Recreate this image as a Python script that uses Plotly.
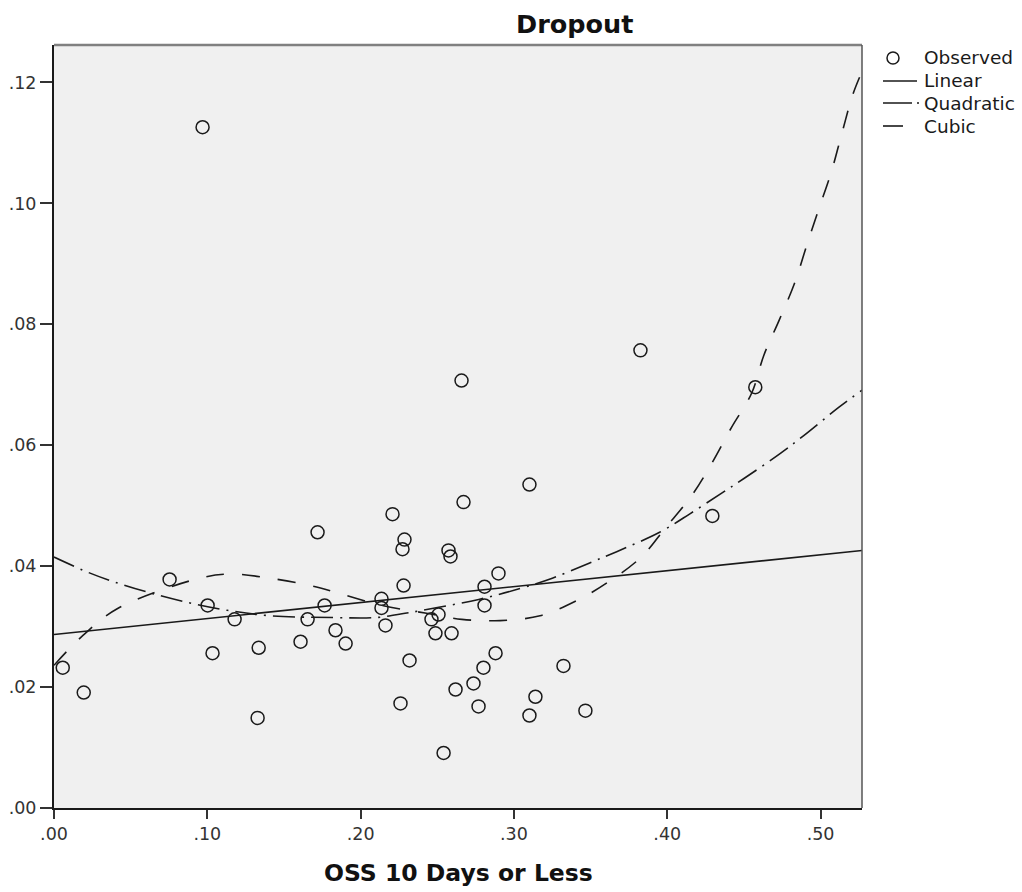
import plotly.graph_objects as go

# Observed data points
obs_x = [0.0057, 0.0194, 0.0969, 0.0754, 0.1002, 0.1034, 0.1178, 0.1335, 0.1328, 0.1608,
         0.1654, 0.1719, 0.1765, 0.1836, 0.1902, 0.2208, 0.2136, 0.2136, 0.2162, 0.2286,
         0.2273, 0.2280, 0.2260, 0.2319, 0.2462, 0.2508, 0.2488, 0.2541, 0.2573, 0.2586,
         0.2593, 0.2619, 0.2671, 0.2658, 0.2736, 0.2769, 0.2801, 0.2808, 0.2808, 0.2880,
         0.2899, 0.3101, 0.3101, 0.3140, 0.3323, 0.3466, 0.3825, 0.4294, 0.4574]
obs_y = [0.0232, 0.0191, 0.1126, 0.0378, 0.0335, 0.0256, 0.0312, 0.0265, 0.0149, 0.0275,
         0.0312, 0.0456, 0.0335, 0.0294, 0.0272, 0.0486, 0.0346, 0.0331, 0.0302, 0.0444,
         0.0428, 0.0368, 0.0173, 0.0244, 0.0312, 0.0320, 0.0289, 0.0091, 0.0426, 0.0416,
         0.0289, 0.0196, 0.0506, 0.0707, 0.0206, 0.0168, 0.0232, 0.0366, 0.0335, 0.0256,
         0.0388, 0.0535, 0.0153, 0.0184, 0.0235, 0.0161, 0.0757, 0.0483, 0.0696]

# Fitted curves
lin_x = [0.0, 0.527]
lin_y = [0.0287, 0.0426]

quad_x = [0.0, 0.022, 0.038, 0.061, 0.087, 0.113, 0.141, 0.182, 0.210, 0.229, 0.251,
          0.277, 0.304, 0.325, 0.349, 0.367, 0.395, 0.415, 0.435, 0.450, 0.474, 0.489,
          0.512, 0.527]
quad_y = [0.0415, 0.0390, 0.0375, 0.0357, 0.0340, 0.0327, 0.0318, 0.0315, 0.0315, 0.0322,
          0.0332, 0.0345, 0.0363, 0.0380, 0.0405, 0.0424, 0.0456, 0.0487, 0.0520, 0.0545,
          0.0587, 0.0616, 0.0663, 0.0691]

cub_x = [0.0, 0.0187, 0.0415, 0.095, 0.116, 0.141, 0.167, 0.186, 0.214, 0.243, 0.266,
         0.291, 0.317, 0.341, 0.361, 0.383, 0.399, 0.416, 0.429, 0.442, 0.455, 0.463,
         0.473, 0.483, 0.491, 0.499, 0.507, 0.514, 0.521, 0.527]
cub_y = [0.0236, 0.0285, 0.0330, 0.0380, 0.0387, 0.0380, 0.0368, 0.0355, 0.0335, 0.0322,
         0.0312, 0.0310, 0.0318, 0.0343, 0.0373, 0.0415, 0.0464, 0.0517, 0.0570, 0.0630,
         0.0686, 0.0749, 0.0807, 0.0868, 0.0931, 0.0992, 0.1052, 0.1117, 0.1180, 0.1218]

x_tickvals = [0.0, 0.1, 0.2, 0.3, 0.4, 0.5]
x_ticktext = [".00", ".10", ".20", ".30", ".40", ".50"]
y_tickvals = [0.0, 0.02, 0.04, 0.06, 0.08, 0.10, 0.12]
y_ticktext = [".00", ".02", ".04", ".06", ".08", ".10", ".12"]

legend_labels = ["Observed", "Linear", "Quadratic", "Cubic"]

FONT = "DejaVu Sans"
INK = "#1a1a1a"

W, H = 1022, 892
ML, MR, MT, MB = 54, 160, 45, 84
PW, PH = W - ML - MR, H - MT - MB


def px_x(p):
    return (p - ML) / PW


def px_y(p):
    return 1 - (p - MT) / PH


fig = go.Figure()
fig.add_trace(go.Scatter(x=obs_x, y=obs_y, mode="markers", name=legend_labels[0],
                         marker=dict(symbol="circle-open", size=13, color=INK,
                                     line=dict(width=1.5, color=INK))))
fig.add_trace(go.Scatter(x=lin_x, y=lin_y, mode="lines", name=legend_labels[1],
                         line=dict(color=INK, width=1.6)))
QUAD_DASH = "22px,7px,2px,7px"
CUB_DASH = "18px,18px"
fig.add_trace(go.Scatter(x=quad_x, y=quad_y, mode="lines", name=legend_labels[2],
                         line=dict(color=INK, width=1.6, dash=QUAD_DASH, shape="spline")))
fig.add_trace(go.Scatter(x=cub_x, y=cub_y, mode="lines", name=legend_labels[3],
                         line=dict(color=INK, width=1.6, dash=CUB_DASH, shape="spline")))

# Hand-built legend (SPSS style)
rows_y = [58, 81, 103, 126]
text_x = 923
shapes = [
    dict(type="line", xref="paper", yref="paper", x0=0, x1=1, y0=1, y1=1,
         line=dict(color="#808080", width=2.5)),
    dict(type="line", xref="paper", yref="paper", x0=1, x1=1, y0=0, y1=1,
         line=dict(color="#555555", width=1.5)),
    dict(type="circle", xref="paper", yref="paper", xsizemode="pixel", ysizemode="pixel",
         xanchor=px_x(893), yanchor=px_y(rows_y[0]), x0=-6, x1=6, y0=-6, y1=6,
         line=dict(color=INK, width=1.5)),
    dict(type="line", xref="paper", yref="paper", x0=px_x(883), x1=px_x(917),
         y0=px_y(rows_y[1]), y1=px_y(rows_y[1]), line=dict(color=INK, width=1.6)),
    dict(type="line", xref="paper", yref="paper", x0=px_x(883), x1=px_x(920),
         y0=px_y(rows_y[2]), y1=px_y(rows_y[2]),
         line=dict(color=INK, width=1.6, dash="29px,5px,2px,20px")),
    dict(type="line", xref="paper", yref="paper", x0=px_x(883), x1=px_x(903),
         y0=px_y(rows_y[3]), y1=px_y(rows_y[3]), line=dict(color=INK, width=1.6)),
]
annotations = [
    dict(text="<b>Dropout</b>", xref="paper", yref="paper", x=px_x(574), y=px_y(24),
         xanchor="center", yanchor="middle", showarrow=False,
         font=dict(size=25.5, family=FONT, color="#111")),
    dict(text="<b>OSS 10 Days or Less</b>", xref="paper", yref="paper", x=0.5, y=px_y(873),
         xanchor="center", yanchor="middle", showarrow=False,
         font=dict(size=23.5, family=FONT, color="#111")),
]
for lab, ry in zip(legend_labels, rows_y):
    annotations.append(dict(text=lab, xref="paper", yref="paper", x=px_x(text_x - 1), y=px_y(ry),
                            xanchor="left", yanchor="middle", showarrow=False,
                            font=dict(size=18.5, family=FONT, color=INK)))

fig.update_layout(
    width=W, height=H,
    margin=dict(l=ML, r=MR, t=MT, b=MB, autoexpand=False),
    paper_bgcolor="white", plot_bgcolor="#f0f0f0",
    font=dict(family=FONT, color=INK, size=16),
    showlegend=False,
    xaxis=dict(range=[0, 0.527], tickvals=x_tickvals, ticktext=x_ticktext, automargin=False,
               showgrid=False, zeroline=False, showline=True, linecolor=INK, linewidth=2,
               ticks="outside", ticklen=9, tickwidth=2, tickcolor="#333",
               tickfont=dict(size=17.5, family=FONT, color="#333")),
    yaxis=dict(range=[0, 0.1262], tickvals=y_tickvals, ticktext=y_ticktext, automargin=False,
               showgrid=False, zeroline=False, showline=True, linecolor=INK, linewidth=2,
               ticks="outside", ticklen=12, tickwidth=2, tickcolor="#333",
               tickfont=dict(size=17.5, family=FONT, color="#333")),
    shapes=shapes,
    annotations=annotations,
)

fig.write_html("out.html")
